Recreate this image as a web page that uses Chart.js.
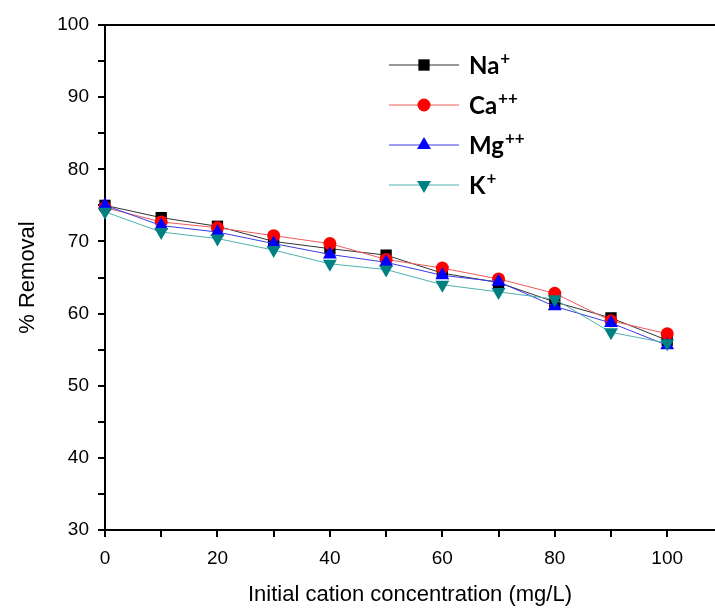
<!DOCTYPE html>
<html>
<head>
<meta charset="utf-8">
<script src="https://cdn.jsdelivr.net/npm/chart.js"></script>
<style>
  html, body { margin: 0; padding: 0; background: #fff; }
  #wrap { width: 715px; height: 610px; }
</style>
</head>
<body>
<div id="wrap"><canvas id="myChart" width="715" height="610"></canvas></div>
<script>
// concentrations (mg/L)
var conc = [0, 10, 20, 30, 40, 50, 60, 70, 80, 90, 100];

// % removal per cation
var naVals = [75.0, 73.3, 72.1, 70.0, 69.0, 68.1, 65.6, 64.3, 61.6, 59.4, 56.3];
var caVals = [74.7, 72.7, 71.9, 70.8, 69.7, 67.5, 66.3, 64.8, 62.8, 59.0, 57.2];
var mgVals = [75.0, 72.2, 71.3, 69.7, 68.2, 67.1, 65.3, 64.4, 61.0, 58.7, 55.6];
var kVals  = [74.1, 71.3, 70.4, 68.8, 66.9, 66.1, 64.0, 63.0, 62.0, 57.4, 55.9];

var yTickVals = [30, 35, 40, 45, 50, 55, 60, 65, 70, 75, 80, 85, 90, 95, 100];

var ionNames = ['Na', 'Ca', 'Mg', 'K'];
var ionCharges = ['+', '++', '++', '+'];

function pts(vals) {
    return conc.map(function (c, i) { return { x: c, y: vals[i] }; });
}

var lineColors = ['#333333', '#f05a5a', '#3a3ae6', '#4fb0b0'];
var markColors = ['#000000', '#ff0000', '#0000ff', '#008080'];
var markStyles = ['rect', 'circle', 'triangle', 'triangle'];
var markRot = [0, 0, 0, 180];
var markRad = [8, 6.5, 8, 8];

function drawMark(c, i, x, y) {
    var r = markRad[i];
    c.save();
    c.fillStyle = markColors[i];
    c.beginPath();
    if (markStyles[i] === 'rect') {
        var s = r * Math.SQRT1_2;
        c.rect(x - s, y - s, 2 * s, 2 * s);
    } else if (markStyles[i] === 'circle') {
        c.arc(x, y, r, 0, Math.PI * 2);
    } else {
        var sgn = markRot[i] === 180 ? -1 : 1;
        c.moveTo(x, y - sgn * r);
        c.lineTo(x + r * 0.866, y + sgn * r * 0.5);
        c.lineTo(x - r * 0.866, y + sgn * r * 0.5);
        c.closePath();
    }
    c.fill();
    c.restore();
}

var frameAndLegend = {
    id: 'frameAndLegend',
    afterDraw: function (chart) {
        var c = chart.ctx;
        var a = chart.chartArea;
        // top frame line
        c.save();
        c.strokeStyle = '#000';
        c.lineWidth = 2;
        c.beginPath();
        c.moveTo(a.left - 7, a.top);
        c.lineTo(a.right, a.top);
        c.stroke();

        // legend
        var rows = [65, 105, 145, 185];
        for (var i = 0; i < ionNames.length; i++) {
            var y = rows[i];
            c.strokeStyle = lineColors[i];
            c.lineWidth = 1;
            c.beginPath();
            c.moveTo(389, y);
            c.lineTo(459, y);
            c.stroke();
            drawMark(c, i, 424, y);
            c.fillStyle = '#000';
            c.textBaseline = 'middle';
            c.textAlign = 'left';
            c.font = 'bold 24px Lato';
            c.fillText(ionNames[i], 469, y + 1);
            var w = c.measureText(ionNames[i]).width;
            c.font = 'bold 17px Lato';
            c.fillText(ionCharges[i], 469 + w + 1, y - 6);
        }
        c.restore();
    }
};

var ctx = document.getElementById('myChart').getContext('2d');

var myChart = new Chart(ctx, {
    type: 'line',
    data: {
        datasets: [
            { data: pts(naVals), order: 4 },
            { data: pts(caVals), order: 3 },
            { data: pts(mgVals), order: 2 },
            { data: pts(kVals), order: 1 }
        ].map(function (d, i) {
            d.label = ionNames[i] + ionCharges[i];
            d.borderColor = lineColors[i];
            d.borderWidth = 1;
            d.backgroundColor = markColors[i];
            d.pointBackgroundColor = markColors[i];
            d.pointBorderWidth = 0;
            d.pointStyle = markStyles[i];
            d.pointRotation = markRot[i];
            d.pointRadius = markRad[i];
            d.tension = 0;
            d.clip = false;
            return d;
        })
    },
    options: {
        responsive: false,
        animation: false,
        layout: { autoPadding: false, padding: { top: 25, right: 0, left: 0, bottom: 0 } },
        plugins: {
            legend: { display: false },
            tooltip: { enabled: false }
        },
        scales: {
            x: {
                type: 'linear',
                min: 0,
                max: 108.5,
                afterBuildTicks: function (s) {
                    s.ticks = conc.map(function (v) { return { value: v }; });
                },
                afterFit: function (s) {
                    s.height = 80;
                    s.paddingLeft = 0;
                    s.paddingRight = 0;
                },
                ticks: {
                    autoSkip: false,
                    maxRotation: 0,
                    padding: 10,
                    color: '#000',
                    font: { family: 'Liberation Sans', size: 19 },
                    callback: function (v) { return v % 20 === 0 ? v : ''; }
                },
                grid: {
                    drawOnChartArea: false,
                    drawTicks: true,
                    tickLength: 7,
                    color: '#000',
                    lineWidth: 2
                },
                border: { display: true, color: '#000', width: 2 },
                title: {
                    display: true,
                    text: 'Initial cation concentration (mg/L)',
                    color: '#000',
                    font: { family: 'Liberation Sans', size: 22 },
                    padding: { top: 0, bottom: 2 }
                }
            },
            y: {
                min: 30,
                max: 100,
                afterBuildTicks: function (s) {
                    s.ticks = yTickVals.map(function (v) { return { value: v }; });
                },
                afterFit: function (s) { s.width = 105; },
                ticks: {
                    autoSkip: false,
                    padding: 9,
                    color: '#000',
                    font: { family: 'Liberation Sans', size: 19 },
                    callback: function (v) { return v % 10 === 0 ? v : ''; }
                },
                grid: {
                    drawOnChartArea: false,
                    drawTicks: true,
                    tickLength: 7,
                    color: '#000',
                    lineWidth: 2
                },
                border: { display: true, color: '#000', width: 2 },
                title: {
                    display: true,
                    text: '% Removal',
                    color: '#000',
                    font: { family: 'Liberation Sans', size: 22 },
                    padding: { top: 15, bottom: 0 }
                }
            }
        }
    },
    plugins: [frameAndLegend]
});
</script>
</body>
</html>
